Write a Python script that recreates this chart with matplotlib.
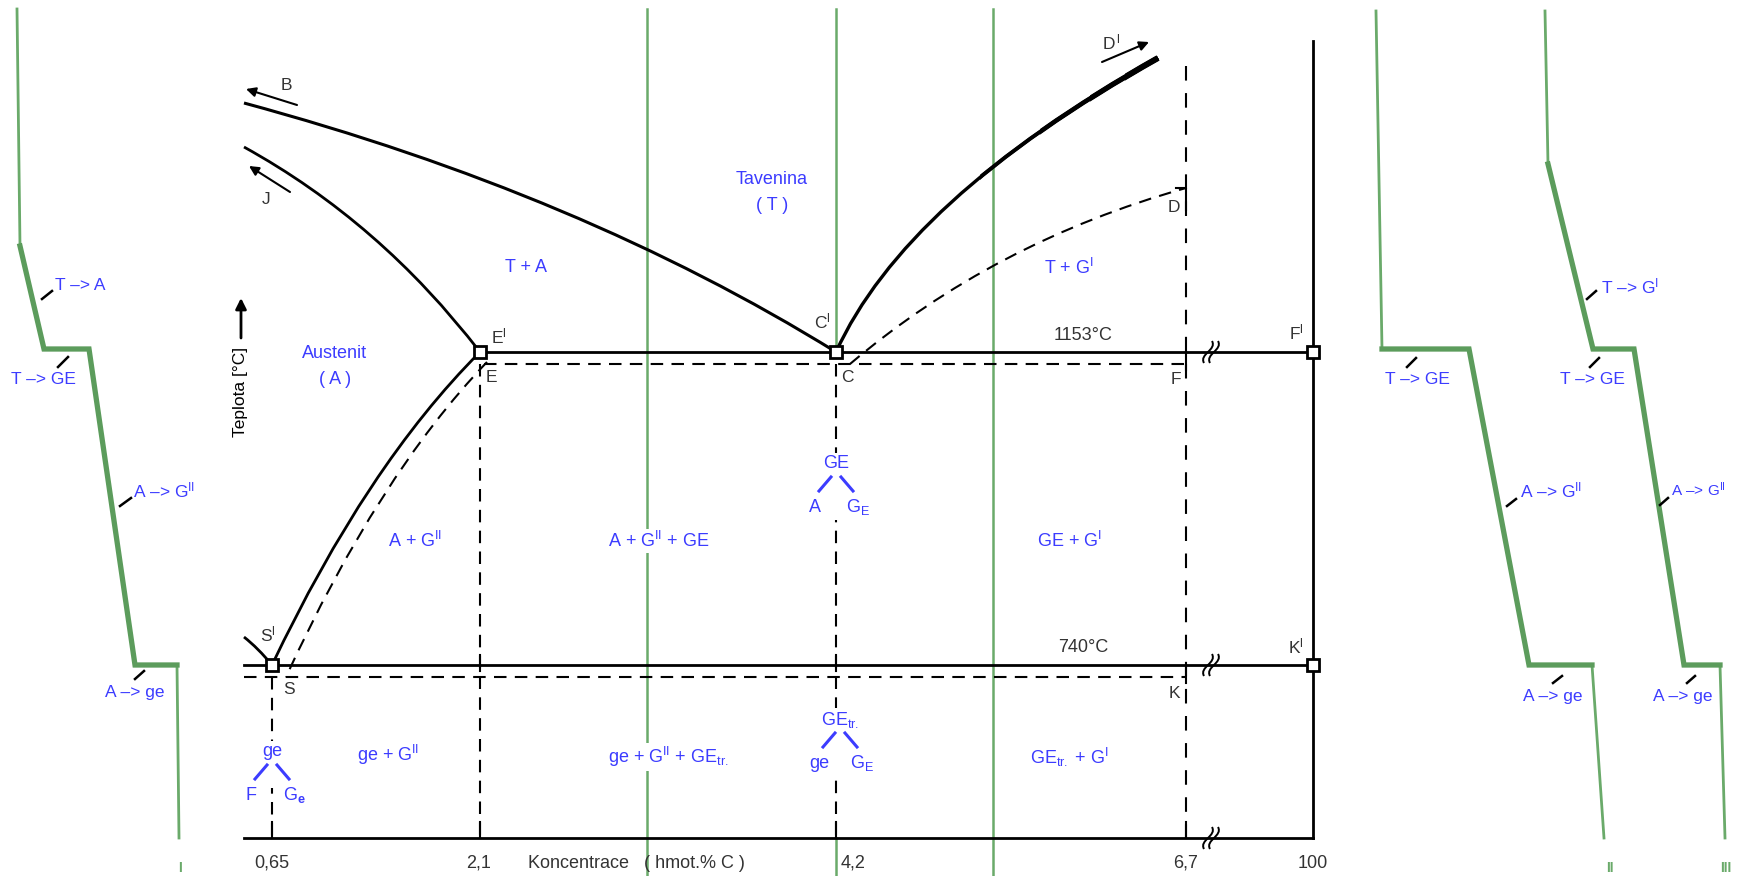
import matplotlib
matplotlib.use("Agg")
import matplotlib.pyplot as plt
from matplotlib.path import Path
from matplotlib.patches import PathPatch

plt.rcParams['font.family'] = ['Liberation Sans', 'DejaVu Sans']
plt.rcParams['mathtext.fontset'] = 'custom'
plt.rcParams['mathtext.rm'] = 'Liberation Sans'
plt.rcParams['mathtext.it'] = 'Liberation Sans:italic'
plt.rcParams['mathtext.bf'] = 'Liberation Sans:bold'

# --- data (pixel layout of the schematic Fe-C diagram) ---
conc_labels = ['0,65', '2,1', '4,2', '6,7', '100']
conc_x = [272, 480, 836, 1186, 1313]
label_x = [272, 479, 853, 1186, 1313]
iso_temps = ['1153°C', '740°C']
iso_y = [352, 665]          # stable (solid) lines
iso_y_dash = [364, 677]     # metastable (dashed) lines
base_y = 838
left_x = 244
break_x = 1211
alloy_x = [647, 836, 993]   # green composition lines I, II, III

# liquidus / solidus curves: start, control, end
liq_BC = [(244, 103), (581, 194), (836, 352)]
sol_JE = [(244, 147), (380, 222), (480, 352)]
acm_ES = [(480, 352), (367, 465), (272, 665)]
acm_ES_dash = [(487, 362), (378, 476), (286, 677)]
liq_CD = [(836, 352), (905, 200), (1158, 58)]
liq_CD_dash = [(850, 364), (994, 242), (1186, 188)]
gs_S = [(244, 637), (258, 648), (272, 665)]

# cooling curves (vertices) and index range of the thick part
curve_I = [(17, 9), (20, 246), (44, 349), (89, 349), (135, 665), (177, 665), (179, 838)]
curve_II = [(1376, 11), (1382, 349), (1469, 349), (1529, 665), (1592, 665), (1604, 838)]
curve_III = [(1545, 11), (1548, 164), (1593, 349), (1634, 349), (1684, 665), (1720, 665), (1725, 838)]
thick_I = (1, 5)
thick_II = (1, 4)
thick_III = (1, 5)

blue = '#3c3cff'
grey = '#333333'
green = '#6aaa6a'
green_dk = '#5c9c5c'

fig = plt.figure(figsize=(17.37, 8.76), dpi=100)
ax = fig.add_axes([0, 0, 1, 1])
ax.set_xlim(0, 1737)
ax.set_ylim(876, 0)
ax.axis('off')


def bez(pts, **kw):
    p = Path(pts, [Path.MOVETO, Path.CURVE3, Path.CURVE3])
    patch = PathPatch(p, fill=False, capstyle='butt', **kw)
    ax.add_patch(patch)
    return patch


def brk(x, y):
    for dx in (-3, 3):
        p = Path([(x + dx - 4, y + 11), (x + dx - 9, y + 2), (x + dx + 9, y - 2), (x + dx + 4, y - 11)],
                 [Path.MOVETO, Path.CURVE4, Path.CURVE4, Path.CURVE4])
        ax.add_patch(PathPatch(p, fill=False, lw=1.4, color='k', zorder=4))


dash = (0, (6, 4))

# green composition lines
ax.plot([alloy_x[0]] * 2, [9, 876], color=green, lw=1.8, zorder=1)
ax.plot([alloy_x[1]] * 2, [9, iso_y[0]], color=green, lw=1.8, zorder=1)
ax.plot([alloy_x[1]] * 2, [base_y, 876], color=green, lw=1.8, zorder=1)
ax.plot([alloy_x[2]] * 2, [9, 876], color=green, lw=1.8, zorder=1)

# horizontals
ax.plot([conc_x[1], conc_x[4]], [iso_y[0]] * 2, color='k', lw=2, zorder=2)
ax.plot([conc_x[1] + 4, conc_x[3]], [iso_y_dash[0]] * 2, color='k', lw=1.5, ls=dash, zorder=2)
ax.plot([left_x, conc_x[4]], [iso_y[1]] * 2, color='k', lw=2, zorder=2)
ax.plot([left_x, conc_x[3]], [iso_y_dash[1]] * 2, color='k', lw=1.5, ls=dash, zorder=2)
ax.plot([left_x, conc_x[4]], [base_y] * 2, color='k', lw=2, zorder=2)
ax.plot([conc_x[4]] * 2, [41, base_y], color='k', lw=2, zorder=2)
for yy in iso_y + [base_y]:
    brk(break_x, yy)

# dashed verticals and ticks
ax.plot([conc_x[0]] * 2, [iso_y_dash[1], base_y], color='k', lw=1.5, ls=dash, zorder=2)
ax.plot([conc_x[1]] * 2, [iso_y_dash[0], base_y], color='k', lw=1.5, ls=dash, zorder=2)
ax.plot([conc_x[2]] * 2, [iso_y_dash[0], base_y], color='k', lw=1.5, ls=dash, zorder=2)
ax.plot([conc_x[3]] * 2, [66, base_y], color='k', lw=1.5, ls=(0, (7, 6)), zorder=2)
for cx in conc_x[:4]:
    ax.plot([cx, cx], [base_y - 16, base_y], color='k', lw=1.5, zorder=2)
for cx in conc_x[1:3]:
    ax.plot([cx, cx], [iso_y[1] - 10, iso_y[1] + 6], color='k', lw=1.5, zorder=2)
ax.plot([conc_x[3]] * 2, [iso_y[0], iso_y_dash[0] + 6], color='k', lw=1.5, zorder=2)
ax.plot([conc_x[3]] * 2, [iso_y[1], iso_y_dash[1] + 6], color='k', lw=1.5, zorder=2)
ax.plot([conc_x[3] - 10, conc_x[3], conc_x[3]], [liq_CD_dash[2][1], liq_CD_dash[2][1], liq_CD_dash[2][1] + 22],
        color='k', lw=1.5, zorder=2)

# curves
bez(liq_BC, lw=2.2, color='k', zorder=2)
bez(sol_JE, lw=2.0, color='k', zorder=2)
bez(acm_ES, lw=2.0, color='k', zorder=2)
bez(acm_ES_dash, lw=1.5, color='k', ls=dash, zorder=2)
bez(liq_CD, lw=2.4, color='k', zorder=2)
# liquidus C'D' gets gradually heavier towards D'
for x0, w in [(980, 2.8), (1040, 3.3), (1090, 3.8), (1125, 4.3)]:
    seg = bez(liq_CD, lw=w, color='k', zorder=2)
    seg.set_clip_path(plt.Rectangle((x0, 0), 300, 300, transform=ax.transData))
bez(liq_CD_dash, lw=1.5, color='k', ls=dash, zorder=2)
bez(gs_S, lw=2.0, color='k', zorder=2)

# nodes
for nx, ny in [(conc_x[1], iso_y[0]), (conc_x[2], iso_y[0]), (conc_x[4], iso_y[0]),
               (conc_x[0], iso_y[1]), (conc_x[4], iso_y[1])]:
    ax.plot(nx, ny, 's', ms=8, mfc='white', mec='k', mew=2, zorder=5)

# arrows
ap = dict(arrowstyle='-|>', lw=1.5, color='k', mutation_scale=14, shrinkA=0, shrinkB=0)
ax.annotate('', xy=(246, 89), xytext=(297, 105), arrowprops=ap)
ax.annotate('', xy=(249, 166), xytext=(290, 192), arrowprops=ap)
ax.annotate('', xy=(1149, 42), xytext=(1102, 62), arrowprops=ap)
ax.annotate('', xy=(241, 298), xytext=(241, 338), arrowprops=dict(ap, mutation_scale=16, lw=2))

# point labels
pts = [('B', 286, 86), ('J', 266, 199), ("D$^{\\mathrm{\\,l}}$", 1111, 42), ('D', 1174, 207),
       ("E$^{\\mathrm{l}}$", 499, 336), ('E', 491, 378), ("C$^{\\mathrm{l}}$", 822, 321), ('C', 847, 378),
       ("F$^{\\mathrm{l}}$", 1296, 332), ('F', 1176, 380), ("K$^{\\mathrm{l}}$", 1296, 646), ('K', 1174, 694),
       ("S$^{\\mathrm{l}}$", 268, 634), ('S', 289, 690)]
for t, tx, ty in pts:
    ax.text(tx, ty, t, color=grey, fontsize=12.5, ha='center', va='center', zorder=6)
for t, yy in zip(iso_temps, iso_y):
    ax.text(1083, yy - 17, t, color=grey, fontsize=13, ha='center', va='center', zorder=6)

ax.text(241, 392, 'Teplota [°C]', rotation=90, fontsize=12.5, color='k', ha='center', va='center')

# axis labels
for t, lx in zip(conc_labels, label_x):
    ax.text(lx, 863, t, fontsize=13, color=grey, ha='center', va='center')
ax.text(528, 863, 'Koncentrace   ( hmot.% C )', fontsize=13, color=grey, ha='left', va='center')

# region labels
wb = dict(facecolor='white', edgecolor='none', pad=1.5)
regions = [('Tavenina', 772, 179), ('( T )', 772, 205), ('T + A', 526, 268),
           ('Austenit', 335, 354), ('( A )', 335, 380), ('T + G$^{\\mathrm{I}}$', 1069, 268),
           ('A + G$^{\\mathrm{II}}$', 415, 541), ('A + G$^{\\mathrm{II}}$ + GE', 659, 541),
           ('GE + G$^{\\mathrm{I}}$', 1069, 541), ('ge + G$^{\\mathrm{II}}$', 388, 755),
           ('ge + G$^{\\mathrm{II}}$ + GE$_{\\mathrm{tr.}}$', 668, 757),
           ('GE$_{\\mathrm{tr.}}$ + G$^{\\mathrm{I}}$', 1069, 757)]
for t, tx, ty in regions:
    ax.text(tx, ty, t, color=blue, fontsize=13, ha='center', va='center', bbox=wb, zorder=6)

# structure trees
trees = [('GE', 836, 464, 'A', 'G$_{\\mathrm{E}}$', 48),
         ('GE$_{\\mathrm{tr.}}$', 840, 720, 'ge', 'G$_{\\mathrm{E}}$', 48),
         ('ge', 272, 752, 'F', 'G$_{\\mathbf{e}}$', 28)]
for top, tx, ty, lft, rgt, hgt in trees:
    ax.text(tx, ty, top, color=blue, fontsize=13, ha='center', va='center', bbox=wb, zorder=6)
    ax.add_patch(plt.Rectangle((tx - 28, ty + 8), 56, hgt, fc='white', ec='none', zorder=5))
    ax.plot([tx - 5, tx - 17], [ty + 13, ty + 27], color=blue, lw=2.2, zorder=6)
    ax.plot([tx + 5, tx + 17], [ty + 13, ty + 27], color=blue, lw=2.2, zorder=6)
    ax.text(tx - 21, ty + 43, lft, color=blue, fontsize=13, ha='center', va='center', zorder=6)
    ax.text(tx + 22, ty + 43, rgt, color=blue, fontsize=13, ha='center', va='center', zorder=6)

# cooling curves
for crv, (a, b), num, nx in [(curve_I, thick_I, 'I', 180), (curve_II, thick_II, 'II', 1610),
                             (curve_III, thick_III, 'III', 1726)]:
    xs = [p[0] for p in crv]
    ys = [p[1] for p in crv]
    ax.plot(xs[:a + 1], ys[:a + 1], color=green, lw=2, zorder=3)
    ax.plot(xs[b:], ys[b:], color=green, lw=2, zorder=3)
    ax.plot(xs[a:b + 1], ys[a:b + 1], color=green_dk, lw=3.8, solid_joinstyle='miter', zorder=3)
    ax.text(nx, 875, num, color=green, fontsize=10, ha='center', va='bottom', fontweight='bold')

arrow_lbl = [('T –> A', 55, 285, (42, 299), (52, 291), 12.5),
             ('T –> GE', 11, 380, (58, 367), (68, 357), 12.5),
             ('A –> G$^{\\mathrm{II}}$', 133, 490, (120, 506), (131, 498), 12.5),
             ('A –> ge', 105, 693, (135, 679), (144, 671), 12.5),
             ('T –> GE', 1385, 380, (1407, 367), (1416, 358), 12.5),
             ('A –> G$^{\\mathrm{II}}$', 1520, 490, (1507, 506), (1516, 499), 12.5),
             ('A –> ge', 1523, 696, (1553, 683), (1562, 676), 12.5),
             ('T –> G$^{\\mathrm{I}}$', 1601, 286, (1587, 299), (1596, 291), 12.5),
             ('T –> GE', 1560, 380, (1590, 367), (1599, 358), 12.5),
             ('A –> G$^{\\mathrm{II}}$', 1671, 490, (1660, 505), (1668, 498), 11),
             ('A –> ge', 1653, 696, (1687, 683), (1695, 676), 12.5)]
for t, tx, ty, p0, p1, fs in arrow_lbl:
    ax.text(tx, ty, t, color=blue, fontsize=fs, ha='left', va='center', zorder=6)
    ax.plot([p0[0], p1[0]], [p0[1], p1[1]], color='k', lw=1.8, zorder=6)

fig.savefig('out.png', dpi=100, facecolor='white')
